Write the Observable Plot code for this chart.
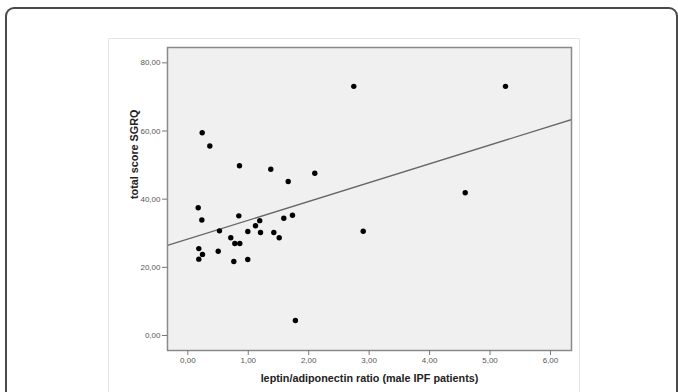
<!DOCTYPE html>
<html>
<head>
<meta charset="utf-8">
<script src="https://cdn.jsdelivr.net/npm/d3@7"></script>
<script src="https://cdn.jsdelivr.net/npm/@observablehq/plot@0.6"></script>
<style>
  html, body { margin: 0; padding: 0; background: #fff; }
  #wrap { position: relative; width: 678px; height: 392px; overflow: hidden; }
  #outer { position: absolute; left: 5px; top: 7px; width: 673px; height: 420px; box-sizing: border-box;
           border: 2px solid #4a4a4a; border-radius: 9px; }
  #inner { position: absolute; left: 108px; top: 38px; width: 472px; height: 400px; box-sizing: border-box;
           border: 1px solid #e6e6e6; }
  #chart { position: absolute; left: 0; top: 0; }
</style>
</head>
<body>
<div id="wrap">
  <div id="outer"></div>
  <div id="inner"></div>
  <div id="chart"></div>
</div>
<script>
// leptin/adiponectin ratio (x) and total score SGRQ (y)
const ratio = [0.238, 0.364, 0.855, 1.373, 1.661, 2.101, 2.902, 0.172, 0.232, 0.844,
               0.524, 1.12, 1.19, 0.993, 1.203, 1.423, 1.512, 1.588, 1.732, 0.711,
               0.778, 0.86, 0.182, 0.243, 0.182, 0.503, 0.761, 0.992, 2.746, 5.256,
               4.59, 1.78];
const sgrq  = [59.5, 55.6, 49.8, 48.8, 45.2, 47.6, 30.6, 37.5, 33.9, 35.1,
               30.7, 32.2, 33.7, 30.5, 30.2, 30.2, 28.7, 34.4, 35.3, 28.7,
               27.0, 27.0, 25.5, 23.8, 22.4, 24.7, 21.7, 22.3, 73.1, 73.1,
               41.9, 4.4];
const xTicks = [0, 1, 2, 3, 4, 5, 6];
const yTicks = [0, 20, 40, 60, 80];
const fitIntercept = [28.3];
const fitSlope = [5.52];
const xLabel = "leptin/adiponectin ratio (male IPF patients)";
const yLabel = "total score SGRQ";

const xDomain = [-0.336, 6.348];
const yDomain = [-4.4, 84.5];
const points = ratio.map((r, i) => ({x: r, y: sgrq[i]}));
const fit = xDomain.map(x => ({x, y: fitIntercept[0] + fitSlope[0] * x}));
const fmt = d => d.toFixed(2).replace(".", ",");

const font = "'Liberation Sans', Arial, sans-serif";
const plot = Plot.plot({
  width: 678, height: 392,
  marginLeft: 167, marginRight: 107, marginTop: 47, marginBottom: 42,
  style: {background: "transparent", fontFamily: font},
  x: {domain: xDomain, axis: null},
  y: {domain: yDomain, axis: null},
  marks: [
    Plot.frame({fill: "#f0f0f0", stroke: "none"}),
    Plot.line(fit, {x: "x", y: "y", stroke: "#666", strokeWidth: 1.3, clip: true}),
    Plot.dot(points, {x: "x", y: "y", r: 2.7, fill: "#000", stroke: "none"}),
    Plot.frame({stroke: "#8a8a8a", strokeWidth: 1.5}),
    Plot.axisX(xTicks, {tickFormat: fmt, tickSize: 5, tickPadding: 2, stroke: "#777", fill: "#555",
      fontSize: 8, label: null}),
    Plot.axisY(yTicks, {tickFormat: fmt, tickSize: 5, tickPadding: 2, stroke: "#777", fill: "#555",
      fontSize: 8, label: null}),
    Plot.text([xLabel], {frameAnchor: "bottom", dy: 28, text: d => d, fontWeight: "bold",
      fontSize: 10.8, fill: "#222", lineAnchor: "middle"}),
    Plot.text([yLabel], {frameAnchor: "left", dx: -33, rotate: -90, text: d => d, fontWeight: "bold",
      fontSize: 10.8, fill: "#222", lineAnchor: "middle"})
  ]
});
document.getElementById("chart").appendChild(plot);
</script>
</body>
</html>
